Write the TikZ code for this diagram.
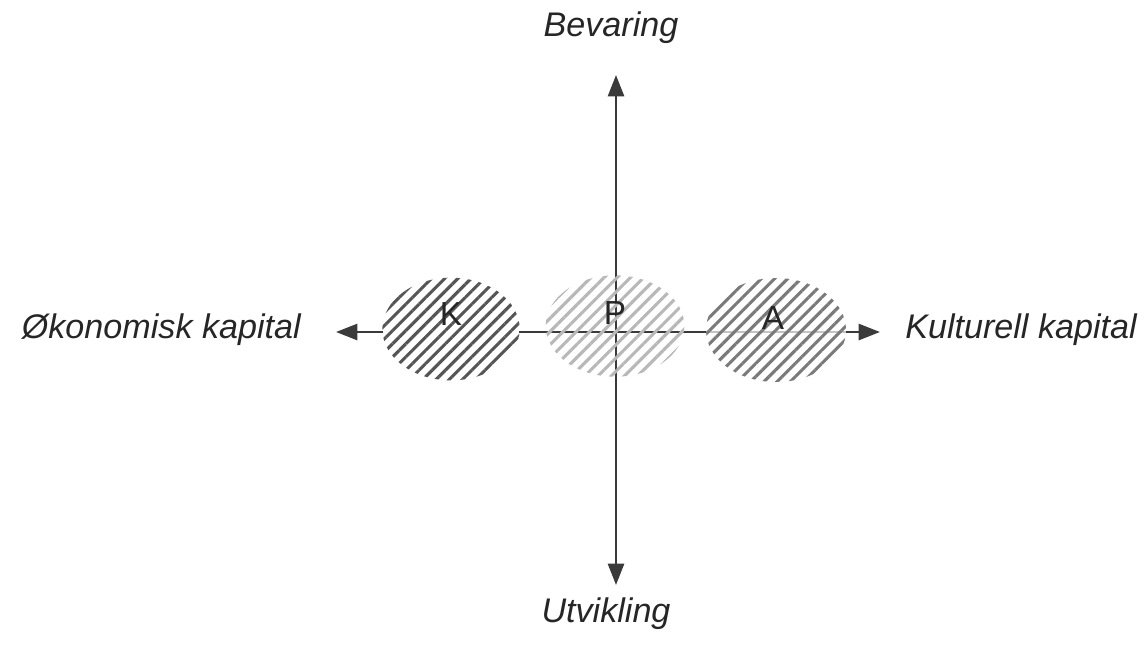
\documentclass[tikz,border=0pt]{standalone}
\usepackage{fontspec}
\setmainfont{Liberation Sans}
\usetikzlibrary{arrows.meta,patterns.meta,shapes.geometric}
\definecolor{axisgray}{HTML}{3A3A3A}
\definecolor{hatchK}{HTML}{555555}
\definecolor{hatchP}{HTML}{B8B8B8}
\definecolor{hatchA}{HTML}{7A7A7A}
\tikzset{
  axis/.style={draw=axisgray, line width=2pt, -{Triangle[length=16pt,width=12pt]}},
  blob/.style={ellipse, draw=none, minimum width=103pt, minimum height=77pt, inner sep=0pt},
  lbl/.style={font=\itshape\fontsize{25.6}{30}\selectfont, text=black!85, inner sep=0pt},
  letter/.style={font=\fontsize{25}{30}\selectfont, text=black!85, inner sep=0pt}
}
\begin{document}
\begin{tikzpicture}[x=0.75pt,y=-0.75pt]
\useasboundingbox[fill=white] (0,0) rectangle (1144,644);
% axis end points
\coordinate (top) at (616,75);
\coordinate (bot) at (616,585);
\coordinate (org) at (616,332);
\coordinate (lft) at (336,332);
\coordinate (rgt) at (880,332);
% axes
\draw[axis] (org) -- (top);
\draw[axis] (org) -- (bot);
\draw[axis] (org) -- (lft);
\draw[axis] (org) -- (rgt);
% hatched areas
\fill[white] (451,329) ellipse [x radius=68, y radius=51];
\node[blob, pattern={Lines[angle=45,distance=7pt,line width=2.3pt]}, pattern color=hatchK] (K) at (451,329) {};
\node[blob, minimum width=104pt, minimum height=76pt, pattern={Lines[angle=45,distance=7pt,line width=2.3pt]}, pattern color=hatchP] (P) at (615,326) {};
\fill[white, opacity=0.7] (776,330) ellipse [x radius=70, y radius=52];
\node[blob, minimum width=105pt, minimum height=78pt, pattern={Lines[angle=45,distance=7pt,line width=2.3pt]}, pattern color=hatchA] (A) at (776,330) {};
% letters
\node[letter] (kl) at (451,314) {K};
\node[letter] (pl) at (615,313) {P};
\node[letter] (al) at (773,318) {A};
% axis labels
\node[lbl] (bev) at (611,28) {Bevaring};
\node[lbl] (utv) at (606,614) {Utvikling};
\node[lbl, anchor=east] (oko) at (301,330) {Økonomisk kapital};
\node[lbl, anchor=west] (kul) at (905,330) {Kulturell kapital};
\end{tikzpicture}
\end{document}
